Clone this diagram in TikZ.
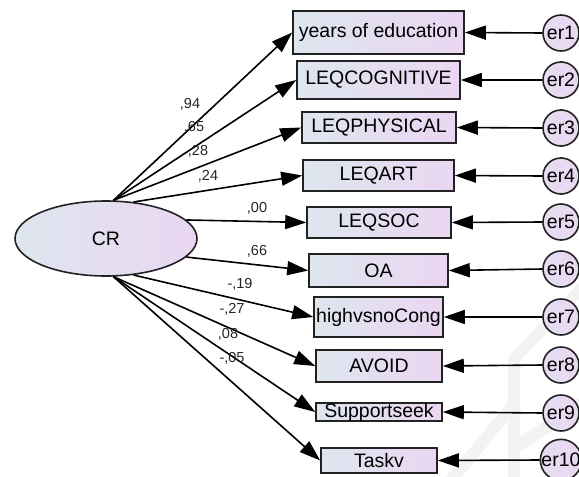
\documentclass[tikz,border=0pt]{standalone}
\usepackage{fontspec}
\setmainfont{Liberation Sans}
\usetikzlibrary{arrows.meta,shapes.geometric}
\definecolor{boxleft}{RGB}{222,230,238}
\definecolor{boxright}{RGB}{234,214,242}
\definecolor{errleft}{RGB}{228,222,240}
\definecolor{errright}{RGB}{236,214,242}
\definecolor{edge}{RGB}{34,34,34}
\definecolor{faint}{RGB}{243,243,243}
\begin{document}
\begin{tikzpicture}[x=1pt,y=-1pt,
  obs/.style={rectangle, draw=edge, line width=1.6pt, left color=boxleft, right color=boxright,
    inner sep=0pt, text=black, font=\fontsize{19.5}{20}\selectfont},
  latent/.style={ellipse, draw=edge, line width=1.6pt, left color=boxleft, right color=boxright,
    inner sep=0pt, minimum width=182pt, minimum height=75pt, text=black, font=\fontsize{19.5}{20}\selectfont},
  errvar/.style={circle, draw=edge, line width=1.6pt, left color=errleft, right color=errright,
    inner sep=0pt, minimum size=36pt, text=black, font=\fontsize{19.5}{20}\selectfont},
  path/.style={line width=1.6pt, draw=black, -{Triangle[length=21pt,width=14pt]}},
  lab/.style={inner sep=0pt, text=black!85, font=\fontsize{14.5}{15}\selectfont}]
\useasboundingbox (0,0) rectangle (579,477);

% faint background mark
\fill[faint] (508,357) -- (520,357) -- (520,477) -- (508,477) -- cycle;
\fill[faint] (508,357) -- (579,283) -- (579,299) -- (520,361) -- cycle;
\fill[faint] (508,402) -- (446,477) -- (462,477) -- (508,420) -- cycle;
\fill[faint] (520,437) -- (579,398) -- (579,413) -- (520,452) -- cycle;

% latent variable
\node[latent] (cr) at (106,238.5) {CR};

% observed indicators
\node[obs, minimum width=171pt, minimum height=43pt] (o1)  at (378.5,32.5)  {years of education};
\node[obs, minimum width=163pt, minimum height=38pt] (o2)  at (378.5,80)    {LEQCOGNITIVE};
\node[obs, minimum width=154pt, minimum height=31pt] (o3)  at (379,127.5)   {LEQPHYSICAL};
\node[obs, minimum width=151pt, minimum height=31pt] (o4)  at (378.5,175.5) {LEQART};
\node[obs, minimum width=144pt, minimum height=31pt] (o5)  at (379,222.5)   {LEQSOC};
\node[obs, minimum width=139pt, minimum height=33pt] (o6)  at (378.5,270.5) {OA};
\node[obs, minimum width=129pt, minimum height=40pt] (o7)  at (378.5,317)   {highvsnoCong};
\node[obs, minimum width=126pt, minimum height=32pt] (o8)  at (379,366)     {AVOID};
\node[obs, minimum width=126pt, minimum height=16pt] (o9)  at (379,412)     {Supportseek};
\node[obs, minimum width=116pt, minimum height=25pt] (o10) at (379,460.5)   {Taskv};

% error terms
\node[errvar] (e1)  at (561,33)  {er1};
\node[errvar] (e2)  at (561,80)  {er2};
\node[errvar] (e3)  at (561,128) {er3};
\node[errvar] (e4)  at (561,176) {er4};
\node[errvar] (e5)  at (561,222) {er5};
\node[errvar] (e6)  at (561,269) {er6};
\node[errvar] (e7)  at (561,317) {er7};
\node[errvar] (e8)  at (561,365) {er8};
\node[errvar] (e9)  at (561,413) {er9};
\node[errvar] (e10) at (561,460) {er10};

% loadings
\draw[path] (cr.79)  -- (o1.west);
\draw[path] (cr.79)  -- (o2.west);
\draw[path] (cr.79)  -- (o3.west);
\draw[path] (cr.53)  -- (o4.west);
\draw[path] (cr.13)  -- (o5.west);
\draw[path] (cr.-13) -- (o6.west);
\draw[path] (cr.-53) -- (o7.west);
\draw[path] (cr.-79) -- (o8.west);
\draw[path] (cr.-79) -- (o9.west);
\draw[path] (cr.-79) -- (o10.west);

% error paths
\foreach \i in {1,...,10}
  \draw[path] (e\i.west) -- (o\i.east);

% loading values
\node[lab] (l1)  at (190,104) {,94};
\node[lab] (l2)  at (194,127) {,65};
\node[lab] (l3)  at (198,151) {,28};
\node[lab] (l4)  at (208,176) {,24};
\node[lab] (l5)  at (257,208) {,00};
\node[lab] (l6)  at (257,251) {,66};
\node[lab] (l7)  at (240,284) {-,19};
\node[lab] (l8)  at (232,309) {-,27};
\node[lab] (l9)  at (228,334) {,08};
\node[lab] (l10) at (232,358) {-,05};
\end{tikzpicture}
\end{document}
